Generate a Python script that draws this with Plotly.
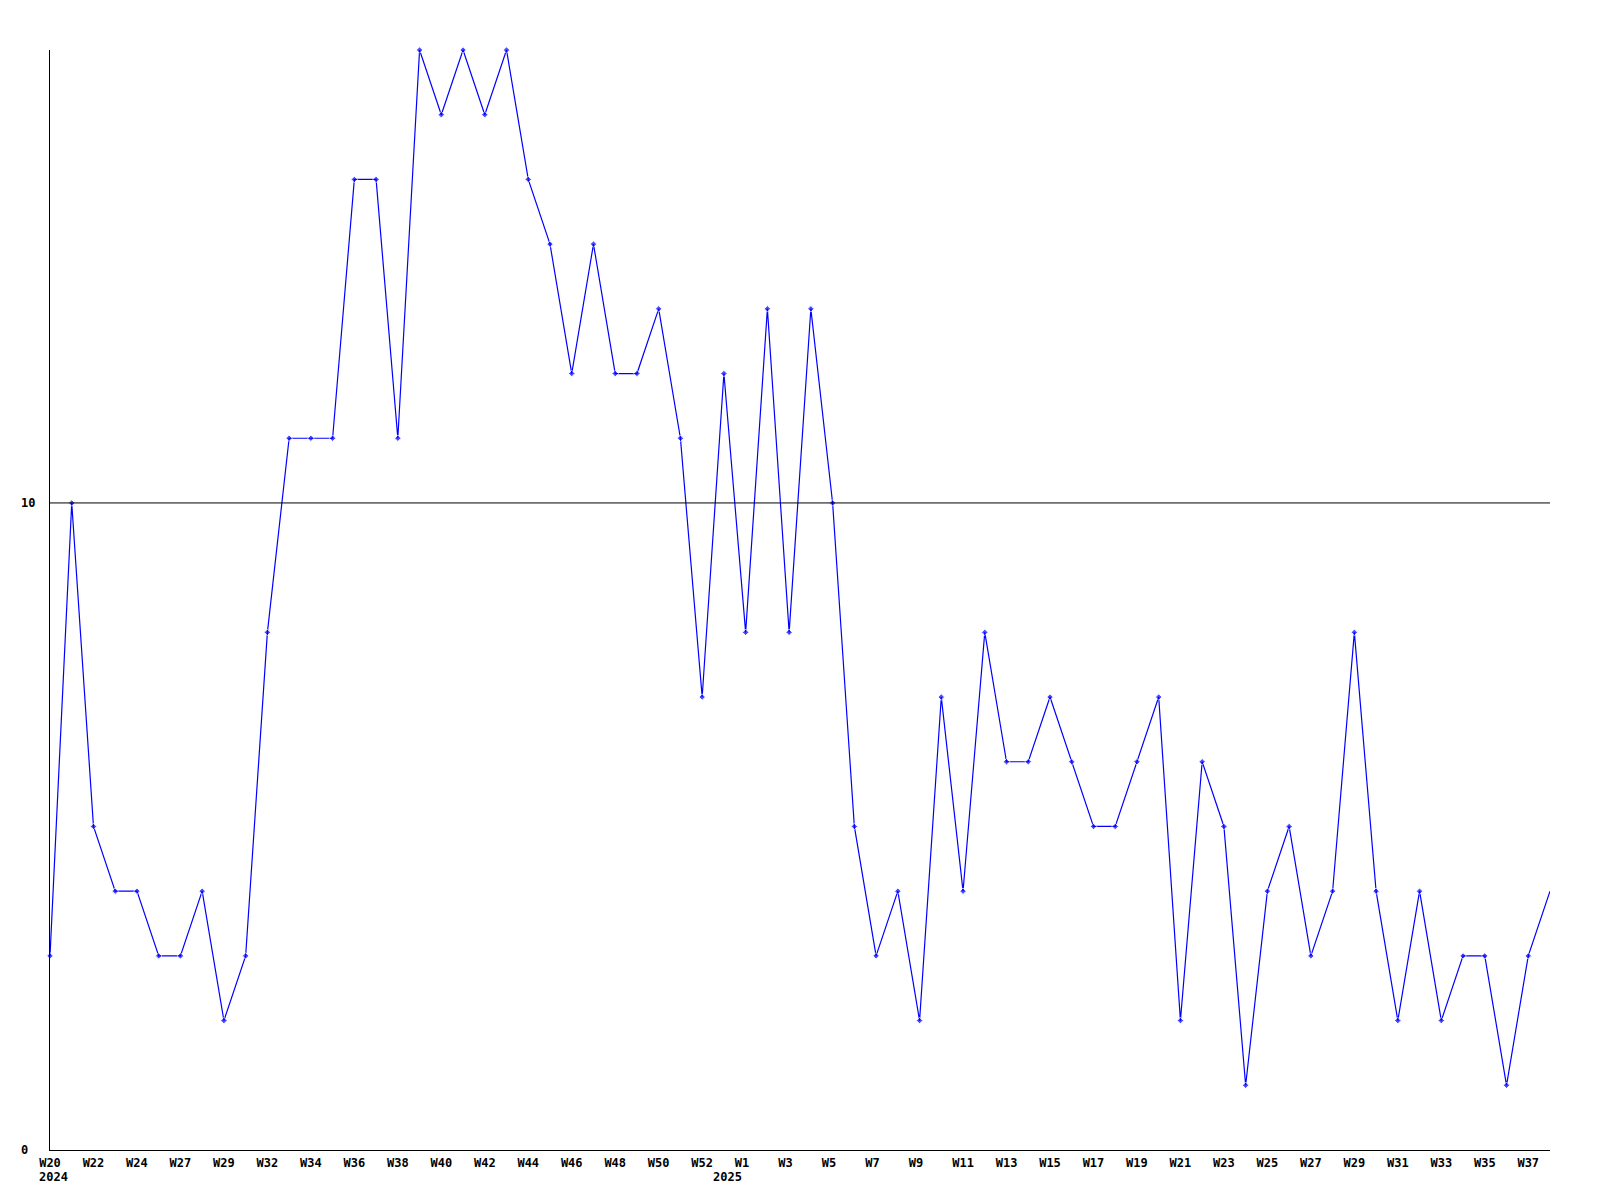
import plotly.graph_objects as go

values = [3, 10, 5, 4, 4, 3, 3, 4, 2, 3,
          8, 11, 11, 11, 15, 15, 11, 17, 16, 17,
          16, 17, 15, 14, 12, 14, 12, 12, 13, 11,
          7, 12, 8, 13, 8, 13, 10, 5, 3, 4,
          2, 7, 4, 8, 6, 6, 7, 6, 5, 5,
          6, 7, 2, 6, 5, 1, 4, 5, 3, 4,
          8, 4, 2, 4, 2, 3, 3, 1, 3, 4]
xidx = list(range(len(values)))

tick_labels = ["W20", "W22", "W24", "W27", "W29", "W32", "W34", "W36", "W38", "W40",
               "W42", "W44", "W46", "W48", "W50", "W52", "W1", "W3", "W5", "W7",
               "W9", "W11", "W13", "W15", "W17", "W19", "W21", "W23", "W25", "W27",
               "W29", "W31", "W33", "W35", "W37"]
tick_pos = list(range(0, 2 * len(tick_labels), 2))
years = ["2024", "2025"]
year_pos = [0, 31]
y_labels = [0, 10]

FONT = "DejaVu Sans Mono"
BLUE = "#0000ff"
FS = 12

# pad 2-char labels so they sit like the original (left-aligned as 3 chars)
tick_text = [t + "\u00a0" * (3 - len(t)) for t in tick_labels]

msize = [5] * len(values)
msize[-1] = 0

fig = go.Figure()
fig.add_trace(go.Scatter(
    x=xidx, y=values, mode="lines+markers",
    line=dict(color=BLUE, width=1.2),
    marker=dict(color=BLUE, size=msize, symbol="diamond"),
    cliponaxis=False, hoverinfo="skip", showlegend=False,
))

fig.add_shape(type="line", xref="paper", x0=0, x1=1, yref="y", y0=10, y1=10,
              line=dict(color="black", width=1))

annotations = []
for yv in y_labels:
    annotations.append(dict(xref="paper", x=0, xshift=-31, xanchor="left",
                            yref="y", y=yv, yanchor="middle", text=str(yv),
                            showarrow=False,
                            font=dict(family=FONT, size=FS, color="black", weight="bold")))
for yr, p in zip(years, year_pos):
    annotations.append(dict(xref="x", x=p, xshift=-13, xanchor="left",
                            yref="paper", y=0, yshift=-27, yanchor="middle", text=yr,
                            showarrow=False,
                            font=dict(family=FONT, size=FS, color="black", weight="bold")))

fig.update_layout(
    width=1584, height=1184,
    margin=dict(l=42, r=42, t=42, b=42),
    paper_bgcolor="white", plot_bgcolor="white",
    xaxis=dict(range=[0, len(values) - 1], tickmode="array", tickvals=tick_pos,
               ticktext=tick_text, showgrid=False, zeroline=False,
               showline=True, linecolor="black", linewidth=1, ticks="",
               tickfont=dict(family=FONT, size=FS, color="black", weight="bold"),
               ticklabelstandoff=2),
    yaxis=dict(range=[0, 17], showgrid=False, zeroline=False, showticklabels=False,
               showline=True, linecolor="black", linewidth=1, ticks=""),
    annotations=annotations,
)

fig.write_html("out.html")
